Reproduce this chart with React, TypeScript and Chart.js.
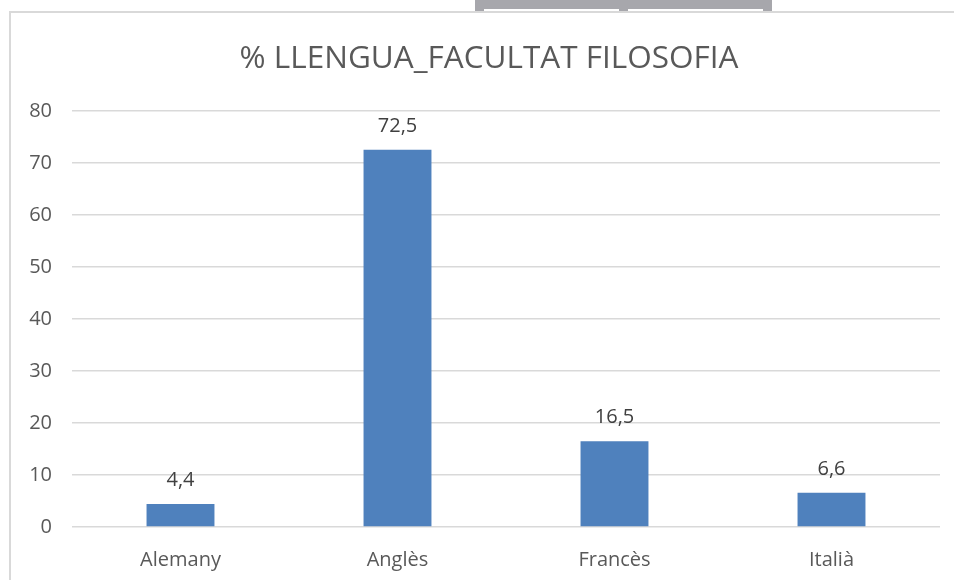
import React, { useEffect, useRef } from "react";
import { Chart, registerables } from "chart.js";

Chart.register(...registerables);

const TITLE = "% LLENGUA_FACULTAT FILOSOFIA";
const categories = ["Alemany", "Anglès", "Francès", "Italià"];
const values = [4.4, 72.5, 16.5, 6.6];
const yMin = 0;
const yMax = 80;
const yStep = 10;

const FONT = "'Open Sans', 'DejaVu Sans', sans-serif";

const dataLabelPlugin = {
  id: "dataLabels",
  afterDatasetsDraw(chart: any) {
    const ctx = chart.ctx;
    const meta = chart.getDatasetMeta(0);
    ctx.save();
    ctx.font = `400 20px ${FONT}`;
    ctx.fillStyle = "#404040";
    ctx.textAlign = "center";
    ctx.textBaseline = "alphabetic";
    meta.data.forEach((bar: any, i: number) => {
      const v = chart.data.datasets[0].data[i] as number;
      const txt = v.toFixed(1).replace(".", ",");
      ctx.fillText(txt, bar.x, bar.y - 18);
    });
    ctx.restore();
  },
};

export default function App() {
  const ref = useRef<HTMLCanvasElement>(null);
  useEffect(() => {
    if (!ref.current) return;
    const chart = new Chart(ref.current, {
      type: "bar",
      data: {
        labels: categories,
        datasets: [
          {
            data: values,
            backgroundColor: "#4f81bd",
            borderWidth: 0,
            barPercentage: 0.313,
            categoryPercentage: 1,
            yAxisID: "y",
          },
        ],
      },
      options: {
        animation: false,
        responsive: true,
        maintainAspectRatio: false,
        layout: { padding: 0 },
        plugins: {
          legend: { display: false },
          tooltip: { enabled: false },
          title: {
            display: true,
            text: TITLE,
            color: "#595959",
            font: { family: FONT, size: 31.5, weight: "400" as any, lineHeight: 1.2 },
            padding: { top: 27.5, bottom: 32.5 },
          },
        },
        scales: {
          x: {
            grid: { display: false, drawTicks: false },
            border: { display: false },
            ticks: {
              color: "#595959",
              font: { family: FONT, size: 20 },
              padding: 21,
              maxRotation: 0,
            },
            afterFit: (s: any) => {
              s.height = 53;
            },
          },
          y: {
            position: "left",
            min: yMin,
            max: yMax,
            grid: { color: "#d9d9d9", lineWidth: 1.5, drawTicks: false },
            border: { display: false },
            ticks: {
              stepSize: yStep,
              color: "#595959",
              font: { family: FONT, size: 20 },
              padding: 20,
            },
            afterFit: (s: any) => {
              s.width = 61;
            },
          },
          yRight: {
            position: "right",
            min: yMin,
            max: yMax,
            grid: { display: false, drawTicks: false },
            border: { display: false },
            ticks: { display: false },
            afterFit: (s: any) => {
              s.width = 27;
            },
          },
        },
      },
      plugins: [dataLabelPlugin],
    });
    return () => chart.destroy();
  }, []);

  return (
    <div
      style={{
        position: "fixed",
        left: 0,
        top: 0,
        width: 954,
        height: 580,
        overflow: "hidden",
        background: "#ffffff",
      }}
    >
      <div
        style={{
          position: "absolute",
          left: 475,
          top: 0,
          width: 297,
          height: 12,
          background: "#a7a7ac",
        }}
      />
      <div style={{ position: "absolute", left: 484, top: 9, width: 135, height: 3, background: "#ffffff" }} />
      <div style={{ position: "absolute", left: 628, top: 9, width: 135, height: 3, background: "#ffffff" }} />
      <div
        style={{
          position: "absolute",
          left: 9,
          top: 11,
          width: 990,
          height: 620,
          border: "2px solid #d9d9d9",
          boxSizing: "border-box",
        }}
      />
      <div style={{ position: "absolute", left: 11, top: 13, width: 956, height: 567 }}>
        <canvas ref={ref} />
      </div>
    </div>
  );
}
